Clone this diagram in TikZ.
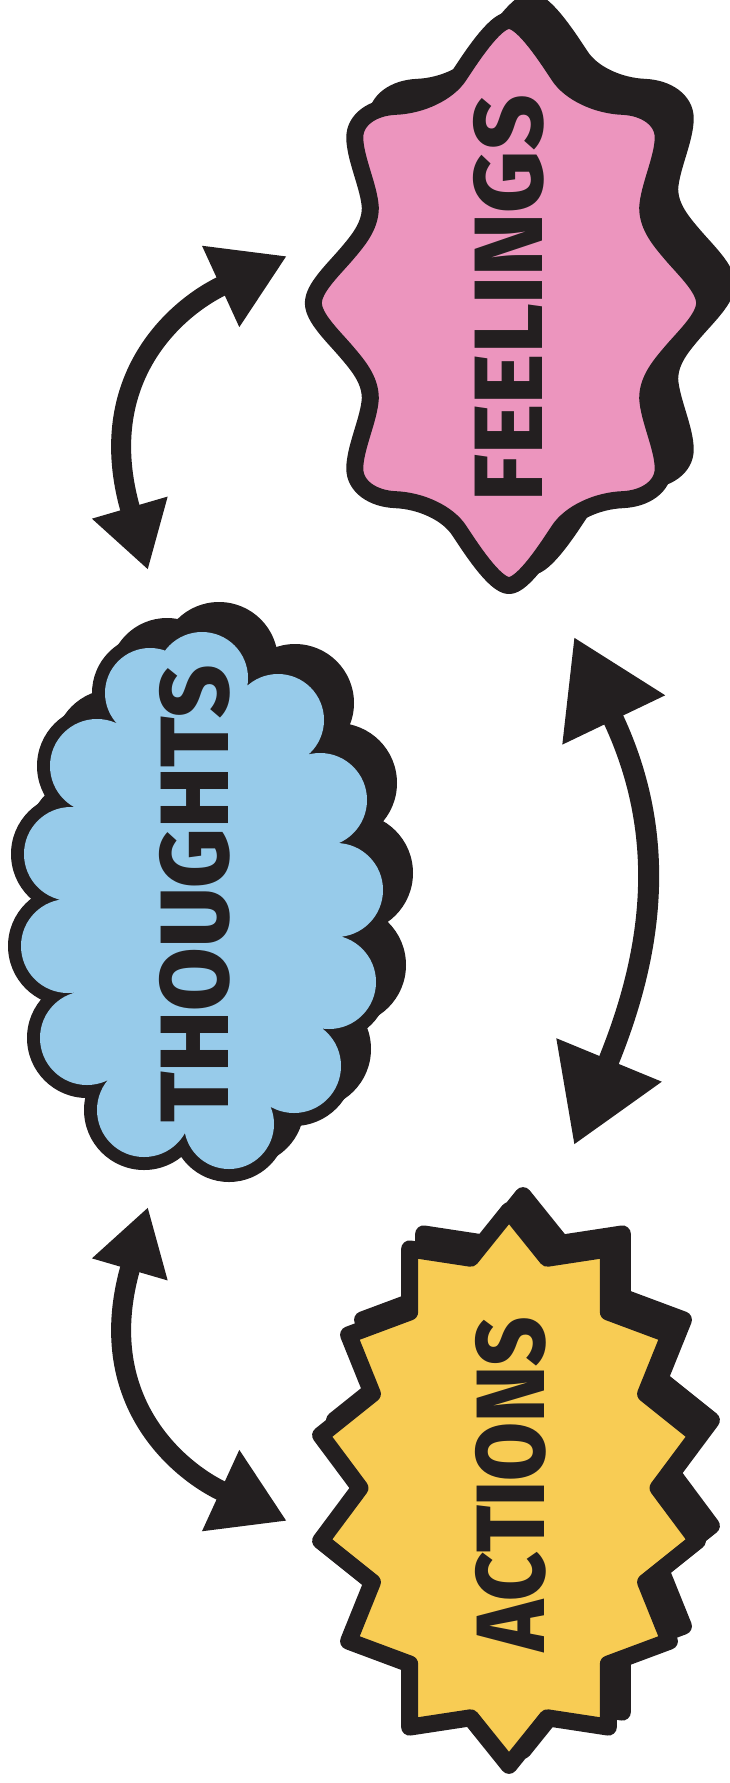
\documentclass[tikz,border=0pt]{standalone}
\usepackage{fontspec}
\setmainfont{Fira Sans}
\newfontfamily\wordfont{Fira Sans ExtraBold}
\usetikzlibrary{arrows.meta}

\definecolor{ink}{HTML}{231F20}
\definecolor{feelpink}{HTML}{EC95BE}
\definecolor{thinkblue}{HTML}{97CBEA}
\definecolor{actyellow}{HTML}{F8CC54}

% wavy blob behind FEELINGS, centred on the origin
\newcommand{\feelblob}[1]{%
  \filldraw[#1] (0,-273)
    .. controls (14,-273) and (38,-235) .. (48,-220)
    .. controls (59,-203) and (85,-191) .. (110,-190)
    .. controls (132,-189) and (149,-177) .. (149,-160)
    .. controls (149,-140) and (135,-112) .. (134,-92)
    .. controls (134,-74) and (146,-60) .. (158,-46)
    .. controls (171,-31) and (189,-14) .. (189,0)
    .. controls (189,14) and (171,31) .. (158,46)
    .. controls (146,60) and (134,74) .. (134,92)
    .. controls (135,112) and (149,140) .. (149,160)
    .. controls (149,177) and (132,189) .. (110,190)
    .. controls (85,191) and (59,203) .. (48,220)
    .. controls (38,235) and (14,273) .. (0,273)
    .. controls (-14,273) and (-38,235) .. (-48,220)
    .. controls (-59,203) and (-85,191) .. (-110,190)
    .. controls (-132,189) and (-149,177) .. (-149,160)
    .. controls (-149,140) and (-135,112) .. (-134,92)
    .. controls (-134,74) and (-146,60) .. (-158,46)
    .. controls (-171,31) and (-189,14) .. (-189,0)
    .. controls (-189,-14) and (-171,-31) .. (-158,-46)
    .. controls (-146,-60) and (-134,-74) .. (-134,-92)
    .. controls (-135,-112) and (-149,-140) .. (-149,-160)
    .. controls (-149,-177) and (-132,-189) .. (-110,-190)
    .. controls (-85,-191) and (-59,-203) .. (-48,-220)
    .. controls (-38,-235) and (-14,-273) .. (0,-273) -- cycle;}

% burst behind ACTIONS, centred on the origin
\newcommand{\actstar}[1]{%
  \filldraw[#1] (0,-268) -- (37,-222) -- (96,-231) -- (96,-170) -- (155,-148)
    -- (132,-91) -- (182,-51) -- (144,0) -- (182,51) -- (132,91) -- (155,148)
    -- (96,170) -- (96,231) -- (37,222) -- (0,268) -- (-37,222) -- (-96,231)
    -- (-96,170) -- (-155,148) -- (-132,91) -- (-182,51) -- (-144,0)
    -- (-182,-51) -- (-132,-91) -- (-155,-148) -- (-96,-170) -- (-96,-231)
    -- (-37,-222) -- cycle;}

% cloud behind THOUGHTS: #1 style, #2 extra radius
\newcommand{\thinkcloud}[2]{%
  \fill[#1] (202,678) -- (278,720) -- (320,800) -- (336,890) -- (329,982)
    -- (294,1066) -- (229,1124) -- (144,1110) -- (87,1038) -- (68,946)
    -- (71,854) -- (97,766) -- (150,693) -- cycle;
  \fill[#1] (202,678) circle[radius=46+#2] (278,720) circle[radius=46+#2]
    (320,800) circle[radius=47+#2] (336,890) circle[radius=47+#2]
    (329,982) circle[radius=47+#2] (294,1066) circle[radius=47+#2]
    (229,1124) circle[radius=45+#2] (144,1110) circle[radius=47+#2]
    (87,1038) circle[radius=47+#2] (68,946) circle[radius=47+#2]
    (71,854) circle[radius=47+#2] (97,766) circle[radius=47+#2]
    (150,693) circle[radius=45+#2];}

\begin{document}
\begin{tikzpicture}[
  x=1pt, y=-1pt,
  wordlbl/.style={rotate=90, inner sep=0pt, text=ink,
    font=\wordfont\fontsize{97}{97}\selectfont},
  inkedge/.style={draw=ink, line width=17pt, line join=round},
  dropfill/.style={inkedge, fill=ink},
  loopmap/.style={{Triangle[length=65pt,width=74pt]}-{Triangle[length=73pt,width=84pt]},
    draw=ink, line width=20pt},
  swapmap/.style={{Triangle[length=92pt,width=108pt]}-{Triangle[length=92pt,width=108pt]},
    draw=ink, line width=21pt}
]
  \useasboundingbox (0,0) rectangle (729,1783);

  % feelings
  \feelblob{dropfill, shift={(531,284)}, scale=1.035}
  \feelblob{inkedge, fill=feelpink, shift={(509,303)}, scale=1.035}
  \node[wordlbl] (feel) at (509,298) {\scalebox{0.99}[1]{FEELINGS}};

  % thoughts
  \thinkcloud{ink, shift={(17,-17)}}{13}
  \thinkcloud{ink}{13}
  \thinkcloud{thinkblue}{0}
  \node[wordlbl] (thought) at (195,894) {\scalebox{0.95}[1]{THOUGHTS}};

  % actions
  \actstar{dropfill, shift={(523,1473)}, scale=1.035}
  \actstar{inkedge, fill=actyellow, shift={(509,1488)}, scale=1.035}
  \node[wordlbl] (act) at (511,1484) {\scalebox{0.88}[1]{ACTIONS}};

  % arrow ends
  \coordinate (tf) at (148,570);
  \coordinate (ft) at (287,256);
  \coordinate (fa) at (574,637);
  \coordinate (af) at (574,1145);
  \coordinate (ta) at (148,1207);
  \coordinate (at) at (287,1521);

  \draw[loopmap] (tf) .. controls (92,378) and (178,306) .. (ft);
  \draw[swapmap] (fa) .. controls (667,831) and (656,946) .. (af);
  \draw[loopmap] (ta) .. controls (92,1399) and (178,1471) .. (at);
\end{tikzpicture}
\end{document}
